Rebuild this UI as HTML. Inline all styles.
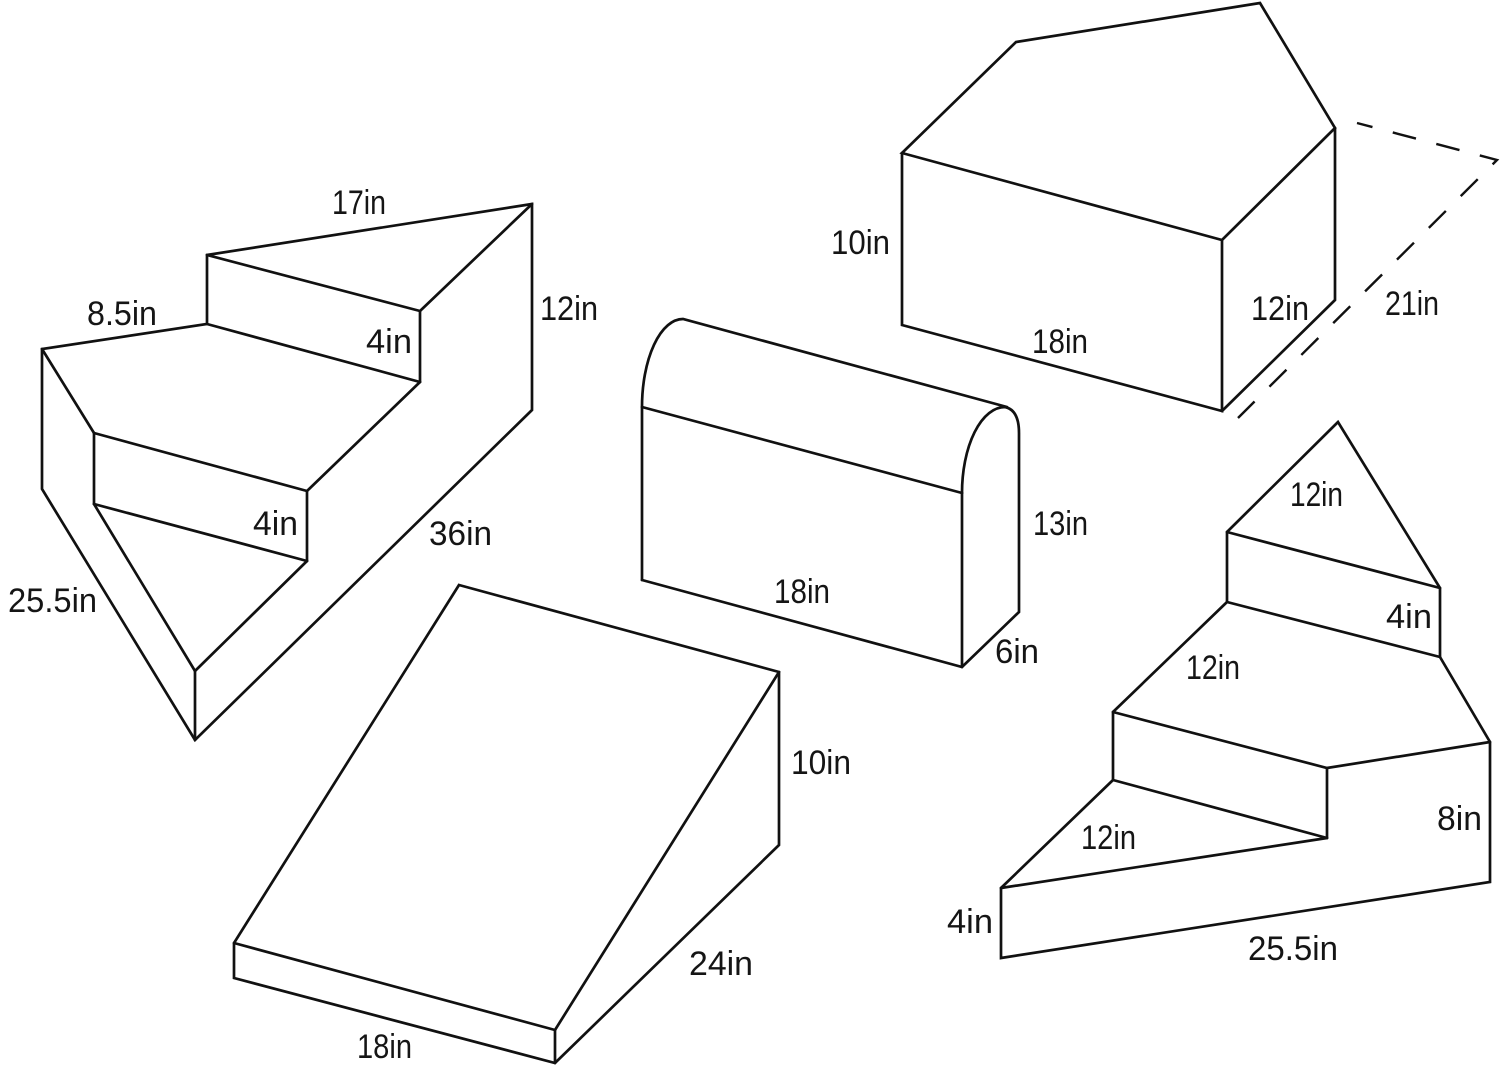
<!DOCTYPE html>
<html>
<head>
<meta charset="utf-8">
<style>
  html,body{margin:0;padding:0;background:#fff;}
  body{width:1500px;height:1073px;overflow:hidden;}
  svg{display:block;}
  .l{fill:none;stroke:#111;stroke-width:2.7;stroke-linejoin:miter;stroke-linecap:round;}
  .d{fill:none;stroke:#111;stroke-width:2.4;stroke-dasharray:24 21;stroke-dashoffset:8;}
  text{font-family:"Liberation Sans",sans-serif;font-size:34px;fill:#151515;}
</style>
</head>
<body>
<svg width="1500" height="1073" viewBox="0 0 1500 1073" xmlns="http://www.w3.org/2000/svg">
  <rect width="1500" height="1073" fill="#fff"/>

  <!-- Left staircase -->
  <g class="l">
    <path d="M207,255 L532,204 L532,410 L195,740 L42,489 L42,349 L207,324 L207,255 Z"/>
    <path d="M532,204 L420,311"/>
    <path d="M207,255 L420,311"/>
    <path d="M420,311 L420,382"/>
    <path d="M207,324 L420,382"/>
    <path d="M420,382 L307,491"/>
    <path d="M42,349 L94,433"/>
    <path d="M94,433 L307,491"/>
    <path d="M94,433 L94,504"/>
    <path d="M307,491 L307,561"/>
    <path d="M94,504 L307,561"/>
    <path d="M307,561 L195,671"/>
    <path d="M94,504 L195,671"/>
    <path d="M195,671 L195,740"/>
  </g>

  <!-- House shape -->
  <g class="l">
    <path d="M902,153 L1016,42 L1260,3 L1335,128 L1222,240 Z"/>
    <path d="M902,153 L902,325 L1222,411 L1222,240"/>
    <path d="M1335,128 L1335,300 L1222,411"/>
  </g>
  <path class="d" d="M1357,123 L1497,160 L1238,418"/>

  <!-- Rounded block -->
  <g class="l">
    <path d="M642,580 L642,407 A41 88 0 0 1 683,319 L1007,407"/>
    <path d="M642,407 L962,493"/>
    <path d="M962,493 A43 86 0 0 1 1005,407 Q1019,410 1019,433 L1019,612 L962,667 L642,580"/>
    <path d="M962,493 L962,667"/>
  </g>

  <!-- Wedge -->
  <g class="l">
    <path d="M459,585 L779,672 L779,845 L555,1063 L234,978 L234,943 Z"/>
    <path d="M779,672 L555,1030"/>
    <path d="M234,943 L555,1030"/>
    <path d="M555,1030 L555,1063"/>
  </g>

  <!-- Right staircase -->
  <g class="l">
    <path d="M1338,422 L1227,532 L1227,602 L1113,712 L1113,780 L1001,888 L1001,958 L1490,882 L1490,742 L1440,657 L1440,588 Z"/>
    <path d="M1227,532 L1440,588"/>
    <path d="M1227,602 L1440,657"/>
    <path d="M1113,712 L1327,768 L1490,742"/>
    <path d="M1327,768 L1327,838"/>
    <path d="M1113,780 L1327,838"/>
    <path d="M1001,888 L1327,838"/>
  </g>

  <!-- Labels: left staircase -->
  <text x="332" y="214" textLength="54" lengthAdjust="spacingAndGlyphs">17in</text>
  <text x="87" y="325" textLength="70" lengthAdjust="spacingAndGlyphs">8.5in</text>
  <text x="366" y="353" textLength="46" lengthAdjust="spacingAndGlyphs">4in</text>
  <text x="540" y="320" textLength="58" lengthAdjust="spacingAndGlyphs">12in</text>
  <text x="253" y="535" textLength="45" lengthAdjust="spacingAndGlyphs">4in</text>
  <text x="429" y="545" textLength="63" lengthAdjust="spacingAndGlyphs">36in</text>
  <text x="8" y="612" textLength="89" lengthAdjust="spacingAndGlyphs">25.5in</text>

  <!-- Labels: house -->
  <text x="831" y="254" textLength="59" lengthAdjust="spacingAndGlyphs">10in</text>
  <text x="1032" y="353" textLength="56" lengthAdjust="spacingAndGlyphs">18in</text>
  <text x="1251" y="320" textLength="58" lengthAdjust="spacingAndGlyphs">12in</text>
  <text x="1385" y="315" textLength="54" lengthAdjust="spacingAndGlyphs">21in</text>

  <!-- Labels: rounded block -->
  <text x="1033" y="535" textLength="55" lengthAdjust="spacingAndGlyphs">13in</text>
  <text x="774" y="603" textLength="56" lengthAdjust="spacingAndGlyphs">18in</text>
  <text x="995" y="663" textLength="44" lengthAdjust="spacingAndGlyphs">6in</text>

  <!-- Labels: wedge -->
  <text x="791" y="774" textLength="60" lengthAdjust="spacingAndGlyphs">10in</text>
  <text x="689" y="975" textLength="64" lengthAdjust="spacingAndGlyphs">24in</text>
  <text x="357" y="1058" textLength="55" lengthAdjust="spacingAndGlyphs">18in</text>

  <!-- Labels: right staircase -->
  <text x="1290" y="506" textLength="53" lengthAdjust="spacingAndGlyphs">12in</text>
  <text x="1386" y="628" textLength="46" lengthAdjust="spacingAndGlyphs">4in</text>
  <text x="1186" y="679" textLength="54" lengthAdjust="spacingAndGlyphs">12in</text>
  <text x="1081" y="849" textLength="55" lengthAdjust="spacingAndGlyphs">12in</text>
  <text x="1437" y="830" textLength="45" lengthAdjust="spacingAndGlyphs">8in</text>
  <text x="947" y="933" textLength="46" lengthAdjust="spacingAndGlyphs">4in</text>
  <text x="1248" y="960" textLength="90" lengthAdjust="spacingAndGlyphs">25.5in</text>
</svg>
</body>
</html>
